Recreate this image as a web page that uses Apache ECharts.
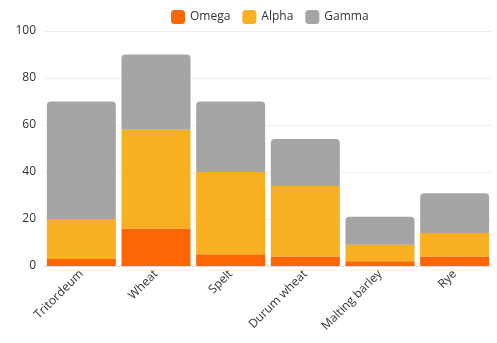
<!DOCTYPE html>
<html><head><meta charset="utf-8">
<script src="https://cdn.jsdelivr.net/npm/echarts@6/dist/echarts.min.js"></script>
<style>html,body{margin:0;padding:0;background:#fff}#c{width:497px;height:343px}</style>
</head><body><div id="c"></div>
<script>
const categories = ['Tritordeum','Wheat','Spelt','Durum wheat','Malting barley','Rye'];
const omega = [3,16,5,4,2,4];
const alpha = [17,42,35,30,7,10];
const gamma = [50,32,30,20,12,17];
const yTicks = [0,20,40,60,80,100];

const chart = echarts.init(document.getElementById('c'));
const font = '"Open Sans", sans-serif';
chart.setOption({
  animation:false,
  textStyle:{fontFamily:font},
  legend:{top:5,left:166,itemWidth:14,itemHeight:14,itemGap:12,
    textStyle:{fontFamily:font,fontSize:12,color:'#333'},
    data:['Omega','Alpha','Gamma']},
  grid:{left:44,right:5,top:31,bottom:77},
  xAxis:{type:'category',data:categories,
    axisLine:{lineStyle:{color:'#ddd'}},axisTick:{show:false},
    axisLabel:{rotate:45,fontFamily:font,fontSize:12,color:'#333',interval:0,margin:6}},
  yAxis:{type:'value',min:yTicks[0],max:yTicks[yTicks.length-1],interval:20,
    axisLine:{show:false},axisTick:{show:false},
    splitLine:{lineStyle:{color:'#eee'}},
    axisLabel:{fontFamily:font,fontSize:12,color:'#333',margin:8}},
  series:[
    {name:'Omega',type:'bar',stack:'s',data:omega,barCategoryGap:'7.6%',itemStyle:{color:'#FD6505'}},
    {name:'Alpha',type:'bar',stack:'s',data:alpha,itemStyle:{color:'#F8B020'}},
    {name:'Gamma',type:'bar',stack:'s',data:gamma,itemStyle:{color:'#A5A5A5',borderRadius:[4,4,0,0]}}
  ]
});
</script></body></html>
